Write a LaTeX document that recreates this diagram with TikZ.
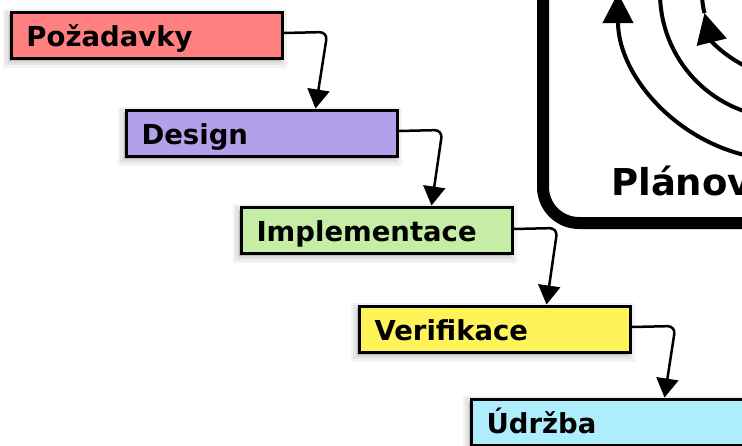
\documentclass[tikz,border=0pt]{standalone}
\usepackage{fontspec}
\setmainfont{DejaVu Sans}
\usetikzlibrary{arrows.meta,calc}
\definecolor{cP}{HTML}{FF8080}
\definecolor{cD}{HTML}{B3A0EB}
\definecolor{cI}{HTML}{C5EDA5}
\definecolor{cV}{HTML}{FFF35A}
\definecolor{cU}{HTML}{AEEEFC}
\begin{document}
\begin{tikzpicture}[x=1pt,y=1pt,
  shlayer/.style={preaction={fill=black, draw=black, opacity=0.05, line width=#1,
      transform canvas={shift={(-2pt,-3pt)}}}},
  shadowed/.style={shlayer=13pt, shlayer=8pt, shlayer=3pt},
  box/.style={draw=black, line width=3pt, anchor=north west,
    minimum width=271pt, minimum height=46pt, text width=240pt,
    inner xsep=15.5pt, inner ysep=0pt, text height=30pt, text depth=7.5pt,
    align=left, font=\fontsize{27.5}{31}\selectfont\bfseries, shadowed},
  conn/.style={line width=2.5pt, rounded corners=8pt,
    -{Triangle[length=19pt,width=22pt]}},
  cyc/.style={line width=4pt},
  cyctip/.style={line width=4pt, -{Triangle[length=30pt,width=30pt]}}
]
\useasboundingbox (0,0) rectangle (742,-445);
\clip (0,0) rectangle (742,-445);

% cycle frame (top right)
\draw[line width=12pt, rounded corners=36pt] (543,-223) rectangle (950,150);
\coordinate (C) at (785,7);
\draw[cyctip] ($(C)+(262:167pt)$) arc[start angle=262, end angle=180, radius=167pt];
\draw[cyc] ($(C)+(262:125pt)$) arc[start angle=262, end angle=170, radius=125pt];
\draw[cyctip] ($(C)+(255:83pt)$) arc[start angle=255, end angle=194, radius=83pt];
\draw[cyc] ($(C)+(194:83pt)$) arc[start angle=194, end angle=170, radius=83pt];
\node[anchor=base west, inner sep=0pt, font=\fontsize{37}{42}\selectfont\bfseries] (plan) at (611,-195) {Plánování};

% waterfall boxes
\node[box, fill=cP] (p) at (9.5,-10.5) {Požadavky};
\node[box, fill=cD] (d) at (124.5,-108.5) {Design};
\node[box, fill=cI] (i) at (239.5,-205.5) {Implementace};
\node[box, fill=cV] (v) at (357.5,-304.5) {Verifikace};
\node[box, fill=cU, minimum width=300pt, text width=269pt] (u) at (469.5,-397.5) {Údržba};

% connectors
\coordinate (t1) at ($(p.east)+(32,0)$);
\coordinate (t2) at ($(d.east)+(33,0)$);
\coordinate (t3) at ($(i.east)+(33,0)$);
\coordinate (t4) at ($(v.east)+(33,0)$);
\draw[conn] ([yshift=2pt]p.east) -- ++(44,1) -- (t1 |- d.north);
\draw[conn] ([yshift=2pt]d.east) -- ++(44,1) -- (t2 |- i.north);
\draw[conn] ([yshift=1pt]i.east) -- ++(44,1) -- (t3 |- v.north);
\draw[conn] ([yshift=2pt]v.east) -- ++(44,1) -- (t4 |- u.north);
\end{tikzpicture}
\end{document}
